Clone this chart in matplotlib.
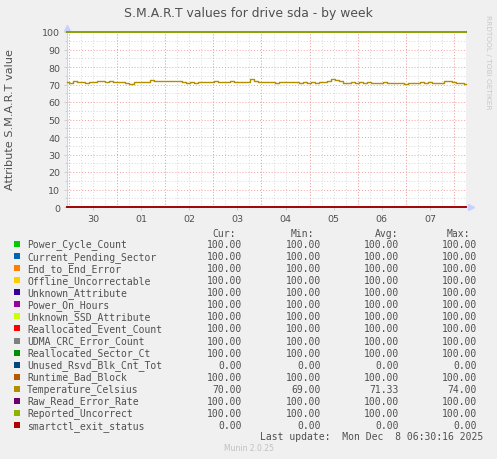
import numpy as np
import matplotlib
matplotlib.use("Agg")
import matplotlib.pyplot as plt

# ---------------------------------------------------------------------------
# Data (hours relative to Mon Dec 1 00:00)
# ---------------------------------------------------------------------------
t_start, t_end = -25.0, 174.0
day_labels = ["30", "01", "02", "03", "04", "05", "06", "07"]
day_centers = [-12, 12, 36, 60, 84, 108, 132, 156]

names = ["Power_Cycle_Count", "Current_Pending_Sector", "End_to_End_Error",
         "Offline_Uncorrectable", "Unknown_Attribute", "Power_On_Hours",
         "Unknown_SSD_Attribute", "Reallocated_Event_Count", "UDMA_CRC_Error_Count",
         "Reallocated_Sector_Ct", "Unused_Rsvd_Blk_Cnt_Tot", "Runtime_Bad_Block",
         "Temperature_Celsius", "Raw_Read_Error_Rate", "Reported_Uncorrect",
         "smartctl_exit_status"]
colors = ["#00CC00", "#0066B3", "#FF8000", "#FFCC00", "#330099", "#990099",
          "#CCFF00", "#FF0000", "#808080", "#008F00", "#00487D", "#B35A00",
          "#B38F00", "#6B006B", "#8FB300", "#B30000"]
cur_vals = [100, 100, 100, 100, 100, 100, 100, 100, 100, 100, 0, 100, 70, 100, 100, 0]
min_vals = [100, 100, 100, 100, 100, 100, 100, 100, 100, 100, 0, 100, 69, 100, 100, 0]
avg_vals = [100, 100, 100, 100, 100, 100, 100, 100, 100, 100, 0, 100, 71.33, 100, 100, 0]
max_vals = [100, 100, 100, 100, 100, 100, 100, 100, 100, 100, 0, 100, 74, 100, 100, 0]

temperature = [
    71.5, 71.0, 71.8, 71.2, 71.6, 71.0, 71.7, 71.3,
    71.8, 71.9, 71.6, 71.8, 71.5, 71.2, 71.7,
    71.0, 70.2, 71.3,
    71.6, 71.7, 71.5,
    72.6, 72.0, 71.9, 71.9, 72.0,
    72.2, 72.1, 71.9,
    71.2, 70.8, 71.5, 71.0,
    71.6, 71.3, 71.7, 71.4, 71.8, 71.2, 71.6, 71.5, 71.9, 71.3, 71.6, 71.4, 71.7,
    73.2,
    71.8, 71.5, 71.3, 71.6, 71.4, 71.0, 71.7, 71.3, 71.5, 71.2,
    71.4, 71.0, 71.6, 70.6, 71.2, 70.9, 71.5, 71.3,
    72.0, 73.0, 72.3, 72.2,
    71.0, 70.6, 71.4, 70.8, 71.3, 71.0, 71.2, 70.7, 71.1, 70.9, 71.3, 71.0, 71.1, 70.8,
    71.0, 70.2, 70.9, 70.8, 71.0,
    71.2, 70.9, 71.6, 71.0, 70.8, 71.1,
    72.1, 71.9, 71.3, 71.0, 70.8, 70.5,
]

# ---------------------------------------------------------------------------
# Figure
# ---------------------------------------------------------------------------
W, H = 497, 460
fig = plt.figure(figsize=(W / 100, H / 100), dpi=100)
fig.patch.set_facecolor("#F0F0F0")

def fx(px):
    return px / W

def fy(py):
    return 1 - py / H

ax = fig.add_axes([fx(67), fy(208), 399 / W, 175 / H])
ax.set_facecolor("white")
ax.set_xlim(t_start, t_end)
ax.set_ylim(0, 100)

# grid
for h in np.arange(-24, t_end, 6):
    ax.axvline(h, color="#d8d8d8", lw=0.7, ls=(0, (1, 2)), zorder=0)
for v in np.arange(5, 100, 10):
    ax.axhline(v, color="#d8d8d8", lw=0.7, ls=(0, (1, 2)), zorder=0)
for h in np.arange(-24, t_end, 24):
    ax.axvline(h, color="#f3a0a0", lw=0.7, ls=(0, (1, 2)), zorder=1)
for v in np.arange(10, 101, 10):
    ax.axhline(v, color="#f3a0a0", lw=0.7, ls=(0, (1, 2)), zorder=1)

# series
t_temp = np.linspace(t_start, t_end, len(temperature))
for i, name in enumerate(names):
    if name == "Temperature_Celsius":
        ax.step(t_temp, temperature, where="mid", color=colors[i], lw=1.0,
                zorder=3, clip_on=False)
    else:
        ax.plot([t_start, t_end], [cur_vals[i], cur_vals[i]], color=colors[i],
                lw=1.3, zorder=3, clip_on=False)

# axes styling
for s in ["top", "right"]:
    ax.spines[s].set_visible(False)
for s in ["left", "bottom"]:
    ax.spines[s].set_color("#c8d0ff")
    ax.spines[s].set_linewidth(0.8)
ax.plot([0], [1.025], marker="^", color="#c8d0ff", ms=4, transform=ax.transAxes,
        clip_on=False)
ax.plot([1.012], [0], marker=">", color="#c8d0ff", ms=4, transform=ax.transAxes,
        clip_on=False)

ax.set_yticks(np.arange(0, 101, 10))
ax.set_yticks(np.arange(5, 100, 10), minor=True)
ax.set_xticks(day_centers)
ax.set_xticklabels(day_labels)
ax.tick_params(axis="both", colors="#c8c8c8", labelcolor="#505050",
               labelsize=6.8, length=2, width=0.6, pad=3)
ax.tick_params(axis="y", which="minor", colors="#c8c8c8", length=1.5, width=0.6)

# title, y label, side text
fig.text(0.5, fy(13), "S.M.A.R.T values for drive sda - by week", ha="center",
         va="center", fontsize=8.9, color="#505050")
fig.text(fx(10), fy(120), "Attribute S.M.A.R.T value", rotation=90, ha="center",
         va="center", fontsize=8.1, color="#505050")
fig.text(fx(488), fy(15), "RRDTOOL / TOBI OETIKER", rotation=270, ha="center",
         va="top", fontsize=5.3, color="#c8c8c8")

# legend table
mono = "DejaVu Sans Mono"
fs = 7
fig.text(fx(236), fy(234), "Cur:", ha="right", va="center", family=mono,
         fontsize=fs, color="#505050")
fig.text(fx(314), fy(234), "Min:", ha="right", va="center", family=mono,
         fontsize=fs, color="#505050")
fig.text(fx(398), fy(234), "Avg:", ha="right", va="center", family=mono,
         fontsize=fs, color="#505050")
fig.text(fx(470), fy(234), "Max:", ha="right", va="center", family=mono,
         fontsize=fs, color="#505050")

row0, dy = 245, 12.07
col_x = [242, 321, 399, 477]
for i, name in enumerate(names):
    y = row0 + i * dy
    fig.patches.append(plt.Rectangle((fx(14), fy(y + 3)), 6 / W, 6 / H,
                                     transform=fig.transFigure, color=colors[i],
                                     lw=0))
    fig.text(fx(27), fy(y), name, ha="left", va="center", family=mono,
             fontsize=fs, color="#505050")
    for cx, vals in zip(col_x, [cur_vals, min_vals, avg_vals, max_vals]):
        fig.text(fx(cx), fy(y), f"{vals[i]:.2f}", ha="right", va="center",
                 family=mono, fontsize=fs, color="#505050")

fig.text(fx(483), fy(437), "Last update:  Mon Dec  8 06:30:16 2025", ha="right",
         va="center", family=mono, fontsize=fs, color="#505050")
fig.text(fx(249), fy(449), "Munin 2.0.25", ha="center", va="center",
         fontsize=5.5, color="#c0c0c0")

fig.savefig("out.png", dpi=100, facecolor=fig.get_facecolor())
